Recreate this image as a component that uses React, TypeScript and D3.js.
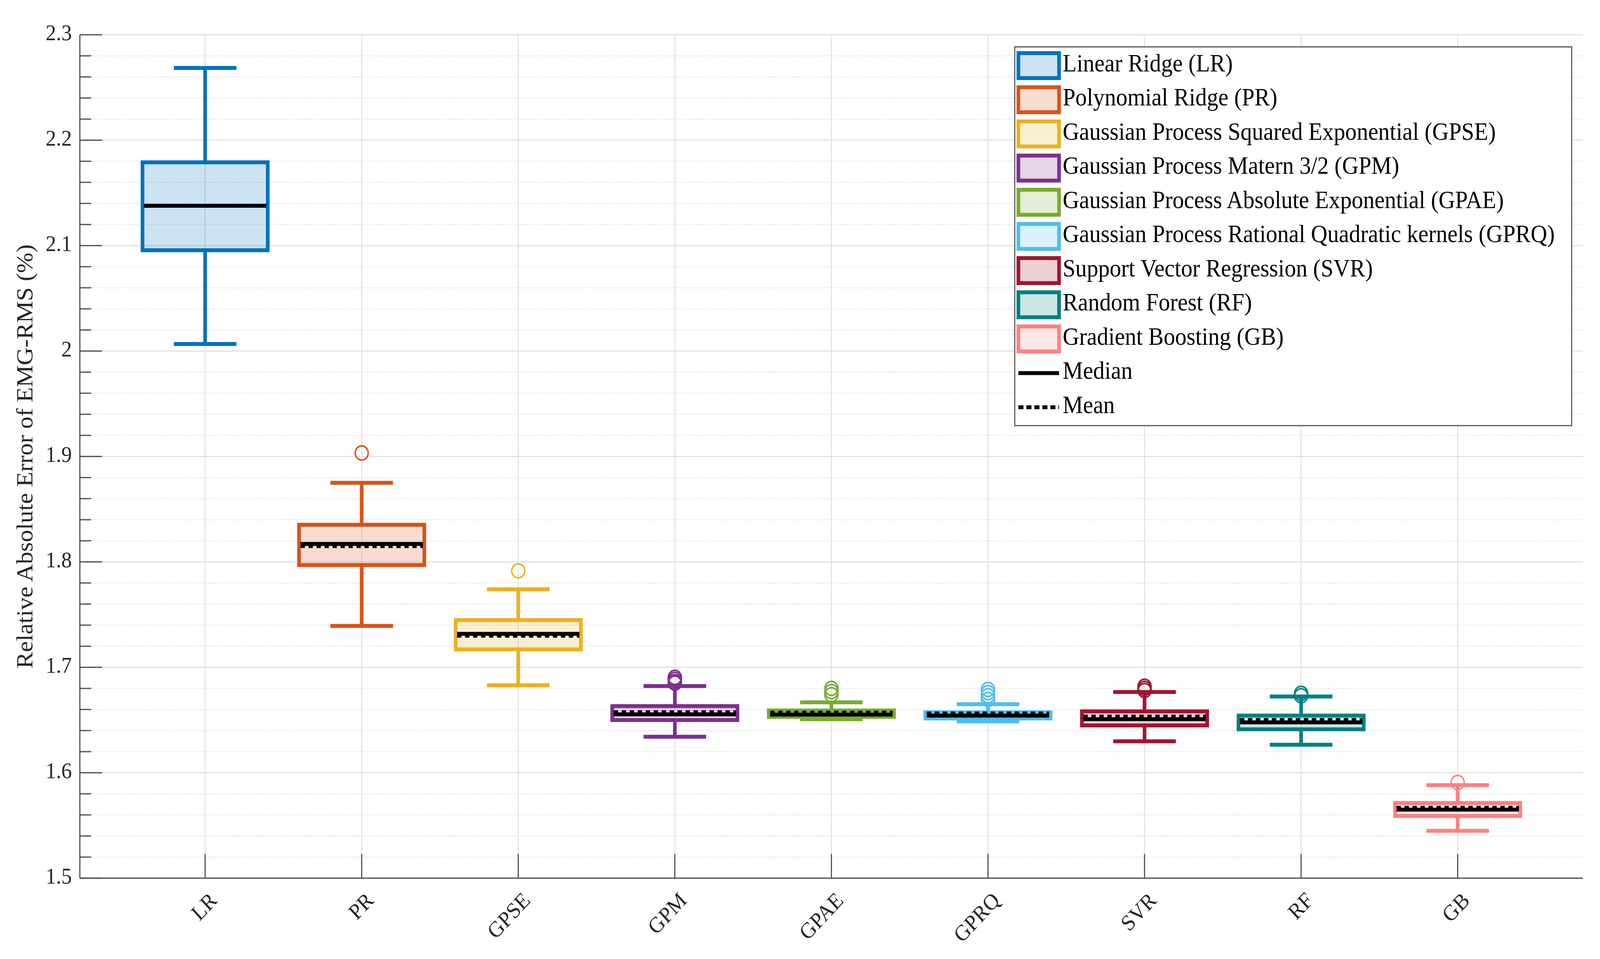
import React, { useEffect } from "react";
import * as d3 from "d3";

const categories = ["LR", "PR", "GPSE", "GPM", "GPAE", "GPRQ", "SVR", "RF", "GB"];
const legendNames = [
  "Linear Ridge (LR)",
  "Polynomial Ridge (PR)",
  "Gaussian Process Squared Exponential (GPSE)",
  "Gaussian Process Matern 3/2 (GPM)",
  "Gaussian Process Absolute Exponential (GPAE)",
  "Gaussian Process Rational Quadratic kernels (GPRQ)",
  "Support Vector Regression (SVR)",
  "Random Forest (RF)",
  "Gradient Boosting (GB)",
];
const colors = ["#0072BD", "#D95319", "#EDB120", "#7E2F8E", "#77AC30", "#4DBEEE", "#A2142F", "#008080", "#FF8080"];

const whiskerLow = [2.0067, 1.7393, 1.683, 1.6342, 1.6507, 1.6487, 1.6298, 1.6266, 1.5449];
const q1 = [2.0956, 1.797, 1.717, 1.65, 1.653, 1.6515, 1.6449, 1.6412, 1.559];
const medians = [2.1378, 1.817, 1.7318, 1.6554, 1.6552, 1.6542, 1.6508, 1.6478, 1.565];
const means = [2.1378, 1.815, 1.73, 1.6574, 1.657, 1.6562, 1.6533, 1.65, 1.5668];
const q3 = [2.179, 1.8352, 1.7448, 1.6632, 1.6591, 1.6573, 1.6582, 1.6542, 1.5713];
const whiskerHigh = [2.2685, 1.875, 1.774, 1.6822, 1.6668, 1.665, 1.6766, 1.6723, 1.5882];
const outliers = [
  [],
  [1.9033],
  [1.7915],
  [1.6905, 1.6885, 1.6865, 1.685],
  [1.68, 1.677, 1.674],
  [1.679, 1.676, 1.673, 1.6695],
  [1.682, 1.68, 1.678],
  [1.6753, 1.673],
  [1.5907],
];
const majorTicks = [1.5, 1.6, 1.7, 1.8, 1.9, 2, 2.1, 2.2, 2.3];
const yLabel = "Relative Absolute Error of EMG-RMS (%)";

const W = 4407;
const H = 2456;
const FONT = "'Liberation Serif', 'Times New Roman', serif";

export default function App() {
  useEffect(() => {
    document.body.style.margin = "0";
    document.body.style.overflow = "hidden";
  }, []);

  const left = 220, right = 4360, top = 89, bottom = 2249;
  const x = d3.scaleLinear().domain([0.2, 9.8]).range([left, right]);
  const y = d3.scaleLinear().domain([1.5, 2.3]).range([bottom, top]);
  const minorTicks = d3.range(1.5, 2.3001, 0.02).map((v) => +v.toFixed(2));
  const isMajor = (v: number) => majorTicks.some((m) => Math.abs(m - v) < 1e-6);
  const axisColor = "#4a4a4a";
  const lw = 10;

  const legendX = 2795, legendY = 120, legendW = 1534, legendH = 970;
  const rowY = (i: number) => 168 + i * 87.5;
  const LF = 63;

  return (
    <svg
      viewBox={`0 0 ${W} ${H}`}
      preserveAspectRatio="none"
      style={{ display: "block", width: "100vw", height: "100vh", background: "#fff" }}
    >
      {/* grid */}
      {minorTicks.filter((v) => !isMajor(v)).map((v) => (
        <line key={"mg" + v} x1={left} x2={right} y1={y(v)} y2={y(v)} stroke="#e4e4e4" strokeWidth={3} strokeDasharray="3 3" />
      ))}
      {majorTicks.map((v) => (
        <line key={"Mg" + v} x1={left} x2={right} y1={y(v)} y2={y(v)} stroke="#e2e2e2" strokeWidth={3} />
      ))}
      {categories.map((c, i) => (
        <line key={"vg" + c} x1={x(i + 1)} x2={x(i + 1)} y1={top} y2={bottom} stroke="#e2e2e2" strokeWidth={3} />
      ))}

      {/* boxes */}
      {categories.map((c, i) => {
        const cx = x(i + 1);
        const bx0 = x(i + 1 - 0.4), bx1 = x(i + 1 + 0.4);
        const cx0 = x(i + 1 - 0.2), cx1 = x(i + 1 + 0.2);
        const col = colors[i];
        return (
          <g key={"box" + c}>
            <line x1={cx} x2={cx} y1={y(q3[i])} y2={y(whiskerHigh[i])} stroke={col} strokeWidth={lw} />
            <line x1={cx} x2={cx} y1={y(q1[i])} y2={y(whiskerLow[i])} stroke={col} strokeWidth={lw} />
            <line x1={cx0} x2={cx1} y1={y(whiskerHigh[i])} y2={y(whiskerHigh[i])} stroke={col} strokeWidth={lw} />
            <line x1={cx0} x2={cx1} y1={y(whiskerLow[i])} y2={y(whiskerLow[i])} stroke={col} strokeWidth={lw} />
            <rect x={bx0} y={y(q3[i])} width={bx1 - bx0} height={y(q1[i]) - y(q3[i])} fill={col} fillOpacity={0.2} stroke={col} strokeWidth={lw} />
            <line x1={bx0 + 4} x2={bx1 - 4} y1={y(means[i])} y2={y(means[i])} stroke="#000" strokeWidth={10} strokeDasharray="12 10" />
            <line x1={bx0 + 4} x2={bx1 - 4} y1={y(medians[i])} y2={y(medians[i])} stroke="#000" strokeWidth={10} />
            {outliers[i].map((o, k) => (
              <circle key={k} cx={cx} cy={y(o)} r={18} fill="none" stroke={col} strokeWidth={4} />
            ))}
          </g>
        );
      })}

      {/* axes */}
      <line x1={left} x2={left} y1={top} y2={bottom} stroke={axisColor} strokeWidth={3} />
      <line x1={left} x2={right} y1={bottom} y2={bottom} stroke={axisColor} strokeWidth={3} />
      {minorTicks.map((v) => (
        <line key={"yt" + v} x1={left} x2={left + (isMajor(v) ? 61 : 31)} y1={y(v)} y2={y(v)} stroke={axisColor} strokeWidth={3} />
      ))}
      {majorTicks.map((v) => (
        <text key={"yl" + v} x={left - 22} y={y(v) + 14} textAnchor="end" fontFamily={FONT} fontSize={58} fill="#262626">
          {d3.format("")(+v.toFixed(1))}
        </text>
      ))}
      {categories.map((c, i) => (
        <g key={"xt" + c}>
          <line x1={x(i + 1)} x2={x(i + 1)} y1={bottom} y2={bottom - 62} stroke={axisColor} strokeWidth={3} />
          <text transform={`translate(${x(i + 1) + 36},${bottom + 60}) rotate(-45)`} textAnchor="end" fontFamily={FONT} fontSize={57} fill="#262626">
            {c}
          </text>
        </g>
      ))}
      <text transform={`translate(89,${(top + bottom) / 2}) rotate(-90)`} textAnchor="middle" fontFamily={FONT} fontSize={63} fill="#262626">
        {yLabel}
      </text>

      {/* legend */}
      <rect x={legendX} y={legendY} width={legendW} height={legendH} fill="#fff" stroke="#555" strokeWidth={3} />
      {legendNames.map((n, i) => (
        <g key={"lg" + i}>
          <rect x={2805} y={rowY(i) - 32} width={112} height={64} fill={colors[i]} fillOpacity={0.2} stroke={colors[i]} strokeWidth={10} />
          <text x={2927} y={rowY(i) + 15} fontFamily={FONT} fontSize={LF} fill="#000">{n}</text>
        </g>
      ))}
      <line x1={2805} x2={2917} y1={rowY(9)} y2={rowY(9)} stroke="#000" strokeWidth={10} />
      <text x={2927} y={rowY(9) + 15} fontFamily={FONT} fontSize={LF} fill="#000">Median</text>
      <line x1={2805} x2={2917} y1={rowY(10)} y2={rowY(10)} stroke="#000" strokeWidth={10} strokeDasharray="14 8" />
      <text x={2927} y={rowY(10) + 15} fontFamily={FONT} fontSize={LF} fill="#000">Mean</text>
    </svg>
  );
}
